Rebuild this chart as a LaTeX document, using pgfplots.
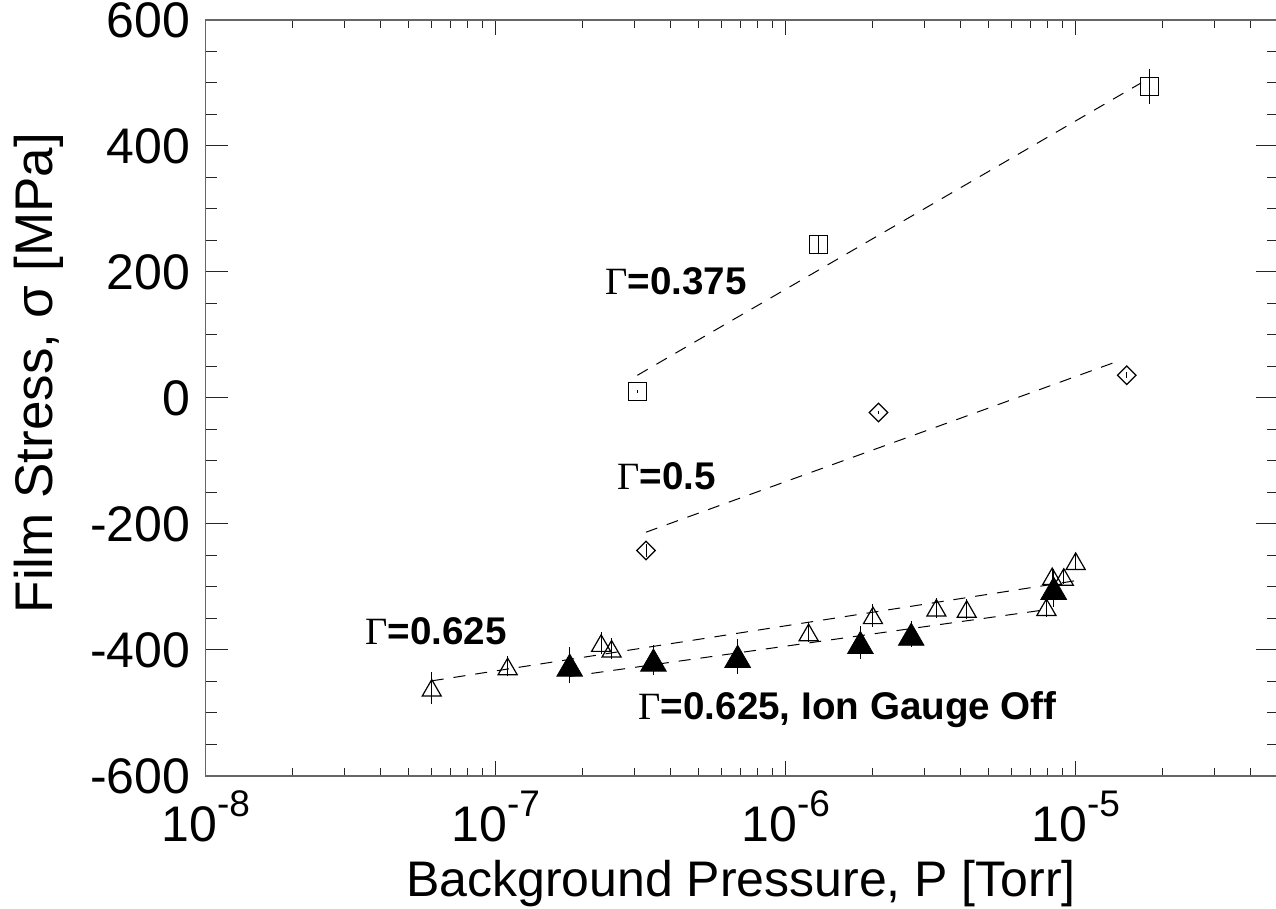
\documentclass[border=0pt]{standalone}
\usepackage{pgfplots}
\pgfplotsset{compat=1.18}
\usepackage{fontspec}
\setmainfont{Liberation Sans}
\newfontfamily\serifG{Liberation Serif}
\newcommand{\G}{{\serifG\mdseries Γ}}
\newcommand{\ex}[1]{10\raisebox{12.5pt}{\fontsize{18.5pt}{18.5pt}\selectfont #1}}
\newcommand{\bigf}{\fontsize{25pt}{25pt}\selectfont}
\newcommand{\ylf}{\fontsize{26.5pt}{26.5pt}\selectfont}
\newcommand{\annf}{\fontsize{19.3pt}{19.3pt}\selectfont\bfseries}

\pgfplotstableread{
x y e
3.08e-7 10 2
1.30e-6 243 15
1.80e-5 494 28
}\sqdata

\pgfplotstableread{
x y e
3.30e-7 -242 10
2.09e-6 -23 3
1.50e-5 36 5
}\diadata

\pgfplotstableread{
x y e
6.02e-8 -460 25
1.10e-7 -426 16
2.31e-7 -389 17
2.51e-7 -398 17
1.20e-6 -372 16
2.00e-6 -345 18
3.31e-6 -333 16
4.21e-6 -335 16
7.93e-6 -332 15
8.30e-6 -283 12
9.10e-6 -284 12
1.00e-5 -259 12
}\opendata

\pgfplotstableread{
x y e
1.80e-7 -424 28
3.50e-7 -416 24
6.83e-7 -410 28
1.81e-6 -388 26
2.71e-6 -375 21
8.40e-6 -302 30
}\filleddata

\begin{document}
\begin{tikzpicture}
\useasboundingbox (-102.85pt,-66.5pt) rectangle (535.15pt,388pt);
\begin{axis}[
  at={(0,0)}, anchor=south west,
  scale only axis, width=536.35pt, height=378pt,
  xmode=log, xmin=1e-8, xmax=5e-5,
  ymin=-600, ymax=600,
  ytick={-600,-400,-200,0,200,400,600},
  yticklabels={-600,-400,-200,0,200,400,600},
  minor ytick={-550,-500,-450,-350,-300,-250,-150,-100,-50,50,100,150,250,300,350,450,500,550},
  xtick={1e-8,1e-7,1e-6,1e-5},
  xticklabels={\ex{-8},\ex{-7},\ex{-6},\ex{-5}},
  minor xtick={2e-8,3e-8,4e-8,5e-8,6e-8,7e-8,8e-8,9e-8,
               2e-7,3e-7,4e-7,5e-7,6e-7,7e-7,8e-7,9e-7,
               2e-6,3e-6,4e-6,5e-6,6e-6,7e-6,8e-6,9e-6,
               2e-5,3e-5,4e-5},
  yticklabel style={font=\bigf, anchor=east, inner sep=0pt, xshift=-7.5pt},
  xticklabel style={font=\bigf, anchor=base, inner sep=0pt, yshift=-32.9pt},
  axis line style={black!60, line width=0.6pt},
  tick style={black!85, line width=0.5pt},
  major tick length=11pt, minor tick length=5.5pt,
  xtick style={/pgfplots/major tick length=7.5pt, /pgfplots/minor tick length=3.8pt},
  tick align=inside,
  clip=false,
]
% fitted lines
\addplot[black, line width=0.5pt, dash pattern=on 6pt off 5pt] coordinates {(3.08e-7,36) (1.68e-5,500)};
\addplot[black, line width=0.5pt, dash pattern=on 6pt off 5pt] coordinates {(3.30e-7,-213) (1.41e-5,59)};
\addplot[black, line width=0.5pt, dash pattern=on 6pt off 5pt] coordinates {(6.02e-8,-449) (1.0e-5,-290)};
\addplot[black, line width=0.5pt, dash pattern=on 6pt off 5pt] coordinates {(1.8e-7,-442) (7.9e-6,-336)};

% squares
\addplot[black, only marks, mark=square, mark size=4.5pt, mark options={line width=0.6pt, solid},
  error bars/.cd, y dir=both, y explicit, error mark=none, error bar style={line width=0.5pt, solid}]
  table[x=x, y=y, y error=e] {\sqdata};
% diamonds
\addplot[black, only marks, mark=square, mark size=3.27pt, mark options={rotate=45, line width=0.6pt, solid},
  error bars/.cd, y dir=both, y explicit, error mark=none, error bar style={line width=0.5pt, solid}]
  table[x=x, y=y, y error=e] {\diadata};
% open triangles
\addplot[black, only marks, mark=triangle, mark size=5.5pt, mark options={yshift=-1.4pt, line width=0.6pt, solid},
  error bars/.cd, y dir=both, y explicit, error mark=none, error bar style={line width=0.5pt, solid}]
  table[x=x, y=y, y error=e] {\opendata};
% filled triangles
\addplot[black, only marks, mark=triangle*, mark size=7.4pt, mark options={yshift=-1.85pt, fill=black, solid},
  error bars/.cd, y dir=both, y explicit, error mark=none, error bar style={line width=0.5pt, solid}]
  table[x=x, y=y, y error=e] {\filleddata};

\node[anchor=base west, font=\annf, inner sep=0pt] at (axis cs:2.38e-7,165) {\G=0.375};
\node[anchor=base west, font=\annf, inner sep=0pt] at (axis cs:2.62e-7,-146) {\G=0.5};
\node[anchor=base west, font=\annf, inner sep=0pt] at (axis cs:3.54e-8,-392) {\G=0.625};
\node[anchor=base west, font=\annf, inner sep=0pt] at (axis cs:3.10e-7,-511) {\G=0.625, Ion Gauge Off};

\node[rotate=90, font=\ylf, inner sep=0pt] at (rel axis cs:-0.1559,0.533) {Film Stress, σ [MPa]};
\node[anchor=base, font=\bigf, inner sep=0pt] at (rel axis cs:0.4991,-0.160) {Background Pressure, P [Torr]};
\end{axis}
\end{tikzpicture}
\end{document}
